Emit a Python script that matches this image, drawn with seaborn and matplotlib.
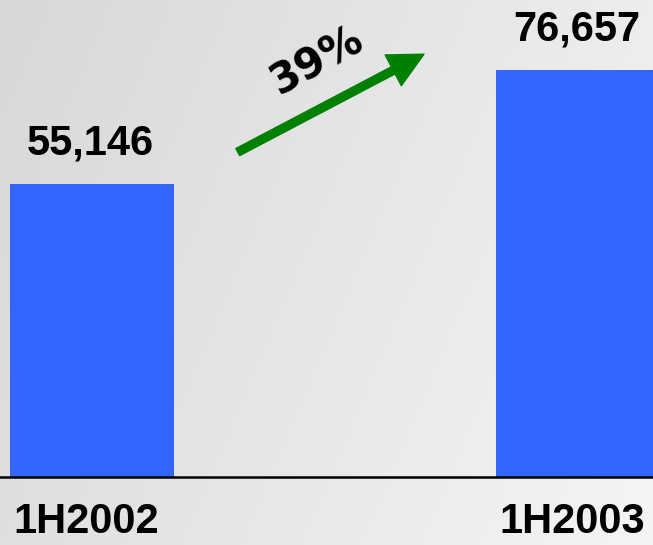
import numpy as np
import pandas as pd
import matplotlib
matplotlib.use("Agg")
import matplotlib.pyplot as plt
import matplotlib.transforms as mtransforms
import seaborn as sns

# Half-year totals
periods = ["1H2002", "1H2003"]
totals = [55146, 76657]
growth_label = "39%"

bar_color = "#3366FF"
arrow_color = "#008000"

sns.set_theme(style="white")
plt.rcParams["font.family"] = ["Liberation Sans", "DejaVu Sans"]

W, H, DPI = 653, 545, 100
fig = plt.figure(figsize=(W / DPI, H / DPI), dpi=DPI)

# soft grey gradient backdrop
bg = fig.add_axes([0, 0, 1, 1], zorder=0)
gx = np.linspace(0, 1, 200)[None, :]
gy = np.linspace(0, 1, 200)[:, None]
val = 0.845 + 0.085 * gx + 0.03 * gy
rgb = np.dstack([val, val, np.clip(val + 0.01, 0, 1)])
bg.imshow(rgb, aspect="auto", extent=[0, 1, 0, 1], origin="upper")
bg.set_axis_off()

base = 477
ax = fig.add_axes([0, (H - base) / H, 1, base / H], zorder=1)
ax.patch.set_alpha(0)

df = pd.DataFrame({"period": periods, "total": totals})
sns.barplot(data=df, x="period", y="total", color=bar_color, saturation=1,
            width=0.337, linewidth=0, edgecolor="none", ax=ax)

ax.set_xlim(-0.189, 1.154)
ax.set_ylim(0, 89800)
ax.set_xlabel("")
ax.set_ylabel("")
ax.set_yticks([])
for s in ["top", "left", "right"]:
    ax.spines[s].set_visible(False)
ax.spines["bottom"].set_color("black")
ax.spines["bottom"].set_linewidth(1.8)
ax.tick_params(axis="x", length=0, pad=18, labelsize=30)
shift = mtransforms.ScaledTranslation(-6 / DPI, 0, fig.dpi_scale_trans)
for lbl in ax.get_xticklabels():
    lbl.set_fontweight("bold")
    lbl.set_color("black")
    lbl.set_transform(lbl.get_transform() + shift)

# value labels above the bars
for i, v in enumerate(totals):
    ax.annotate(f"{v:,}", xy=(i, v), xytext=(-1, 21), textcoords="offset points",
                ha="center", va="baseline", fontsize=30, fontweight="bold",
                color="black")

# growth arrow between the two bars
ax.annotate("", xy=(0.683, 79600), xytext=(0.300, 61170),
            arrowprops=dict(arrowstyle="simple,head_length=25,head_width=25,tail_width=5.8",
                            mutation_scale=1, color=arrow_color,
                            shrinkA=0, shrinkB=0))
ax.text(0.463, 78400, growth_label, rotation=29, rotation_mode="anchor",
        ha="center", va="center", fontsize=30, fontweight="bold",
        family=["DejaVu Sans"], color="black")

fig.savefig("out.png", dpi=DPI)
